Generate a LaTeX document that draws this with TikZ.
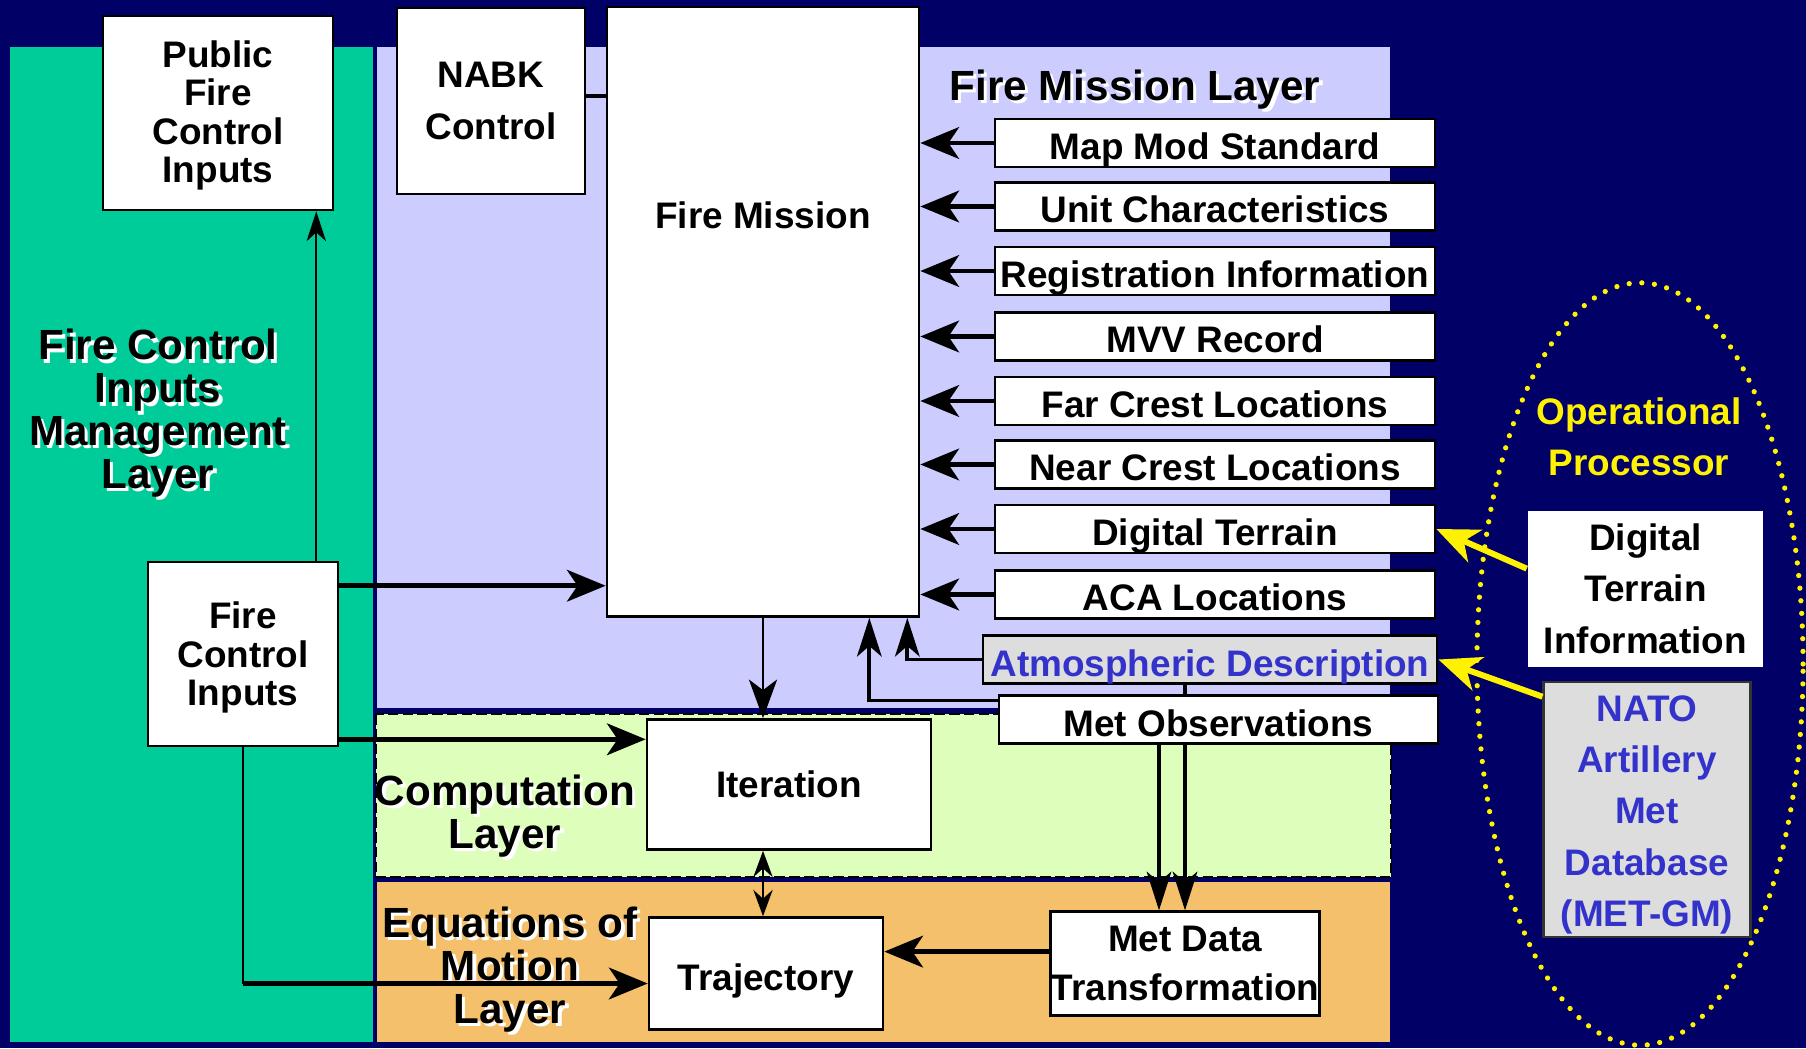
\documentclass[tikz,border=0pt]{standalone}
\usepackage{fontspec}
\setmainfont{Liberation Sans}
\usepackage{tikz}
\usetikzlibrary{positioning, arrows.meta, calc, shapes.geometric}
\definecolor{slidebg}{RGB}{0,0,102}
\definecolor{fcigreen}{RGB}{0,204,153}
\definecolor{fmlav}{RGB}{204,204,255}
\definecolor{complime}{RGB}{221,255,187}
\definecolor{eomorange}{RGB}{245,192,108}
\definecolor{atmgrey}{RGB}{221,221,221}
\definecolor{atmblue}{RGB}{51,51,204}
\newcommand{\shtext}[1]{\leavevmode\rlap{\hspace{0.9pt}\raisebox{-0.9pt}{\color{white}#1}}#1}

\begin{document}
\begin{tikzpicture}[
			x=0.01cm, y=-0.01cm,
			>=Stealth,
			panel/.style={draw=slidebg, line width=0.8pt},
			whitebox/.style={
				draw=black, fill=white, line width=0.7pt, inner sep=0pt,
				align=center, font=\bfseries\fontsize{10.5}{10.9}\selectfont
			},
			listbox/.style={whitebox, minimum width=4.4cm, minimum height=0.48cm, text height=0.32cm, text depth=0cm},
			layertitle/.style={align=center, font=\bfseries\fontsize{12}{12.2}\selectfont},
			fatarrow/.style={-{Stealth[length=11pt, width=9pt, inset=3pt]}, line width=1.4pt},
			midarrow/.style={-{Stealth[length=11pt, width=7pt, inset=3pt]}, line width=1.1pt},
			downarrow/.style={-{Stealth[length=11pt, width=8pt, inset=3pt]}, line width=0.8pt},
			thinarrow/.style={-{Stealth[length=8.5pt, width=5.5pt, inset=2.5pt]}, line width=0.5pt},
			bothway/.style={{Stealth[length=7.5pt, width=5.5pt, inset=2.5pt]}-{Stealth[length=7.5pt, width=5.5pt, inset=2.5pt]}, line width=0.6pt},
			yelarrow/.style={-{Stealth[length=12pt, width=10pt, inset=3.5pt]}, line width=1.7pt, draw=yellow, fill=yellow}
			]
			
			% 0. SLIDE BACKGROUND
			\useasboundingbox (0,0) rectangle (1806,1048);
			\fill[slidebg] (0,0) rectangle (1806,1048);
			
			% 1. LAYER PANELS
			\filldraw[panel, fill=fcigreen] (9,46) rectangle (374,1043);
			\filldraw[panel, fill=fmlav] (376,46) rectangle (1391,709);
			\filldraw[fill=complime, draw=black, line width=0.6pt, dash pattern=on 3pt off 1.2pt] (376,714) rectangle (1391,877);
			\filldraw[panel, fill=eomorange] (376,881) rectangle (1391,1043);
			
			% 2. FIRE CONTROL INPUTS MANAGEMENT LAYER (Left)
			\node[whitebox, minimum width=2.30cm, minimum height=1.94cm, text height=39.5pt, text depth=0pt] (pubfci) at (218,113) {Public\\Fire\\Control\\Inputs};
			\node[whitebox, minimum width=1.90cm, minimum height=1.84cm, text height=29.25pt, text depth=0pt] (fci) at (243,654) {Fire\\Control\\Inputs};
			\node[layertitle] (fcimlayer) at (158,415) {\shtext{Fire Control}\\\shtext{Inputs}\\\shtext{Management}\\\shtext{Layer}};
			\draw[thinarrow] ([xshift=-0.23cm]fci.north east) -- ([xshift=-0.23cm]fci.north east |- pubfci.south);
			
			% 3. FIRE MISSION LAYER (Top)
			\node[whitebox, anchor=north, minimum width=3.12cm, text height=2.21cm, text depth=3.88cm, inner ysep=0pt] (fm) at (763,6) {Fire Mission};
			\node[whitebox, minimum width=1.88cm, minimum height=1.86cm, font=\bfseries\fontsize{10.5}{14.7}\selectfont] (nabk) at (491,101) {NABK\\Control};
			\draw[line width=1.4pt] ([yshift=0.05cm]nabk.east) -- ([yshift=0.05cm]nabk.east -| fm.west);
			\node[layertitle] (fmlayer) at (1135,91) {\shtext{Fire Mission Layer}};
			
			\node[listbox] (mapmod) at (1215,143) {Map Mod Standard};
			\node[listbox, below=0.13cm of mapmod] (unitchar) {Unit Characteristics};
			\node[listbox, below=0.14cm of unitchar] (reginfo) {Registration Information};
			\node[listbox, below=0.15cm of reginfo] (mvv) {MVV Record};
			\node[listbox, below=0.14cm of mvv] (farcrest) {Far Crest Locations};
			\node[listbox, below=0.13cm of farcrest] (nearcrest) {Near Crest Locations};
			\node[listbox, below=0.14cm of nearcrest] (digterr) {Digital Terrain};
			\node[listbox, below=0.15cm of digterr] (aca) {ACA Locations};
			\draw[fatarrow] (mapmod.west) -- (mapmod.west -| fm.east);
			\draw[fatarrow] (unitchar.west) -- (unitchar.west -| fm.east);
			\draw[fatarrow] (reginfo.west) -- (reginfo.west -| fm.east);
			\draw[fatarrow] (mvv.west) -- (mvv.west -| fm.east);
			\draw[fatarrow] (farcrest.west) -- (farcrest.west -| fm.east);
			\draw[fatarrow] (nearcrest.west) -- (nearcrest.west -| fm.east);
			\draw[fatarrow] (digterr.west) -- (digterr.west -| fm.east);
			\draw[fatarrow] (aca.west) -- (aca.west -| fm.east);
			
			\node[listbox, fill=atmgrey, text=atmblue, minimum width=4.54cm, text height=0.33cm] (atmdesc) at (1210,659.5) {Atmospheric Description};
			\node[listbox, minimum width=4.39cm, text height=0.33cm] (metobs) at (1218.5,719.7) {Met Observations};
			\coordinate (atmin) at ($(fm.south east)+(-13,0)$);
			\coordinate (metin) at ($(fm.south east)+(-51,0)$);
			\coordinate (metobsout) at ($(metobs.north west)+(0,6)$);
			\draw[midarrow] (atmdesc.west) -| (atmin);
			\draw[midarrow] (metobsout) -| (metin);
			
			% 4. COMPUTATION LAYER (Middle)
			\node[whitebox, minimum width=2.84cm, minimum height=1.30cm] (iter) at (789,784.5) {Iteration};
			\node[layertitle] (complayer) at (505,817.5) {\shtext{Computation}\\\shtext{Layer}};
			\draw[downarrow] (fm.south) -- (fm.south |- iter.north);
			\coordinate (fcitop) at ($(fci.north east)+(0,25)$);
			\coordinate (fcilow) at ($(fci.south east)+(0,-8)$);
			\draw[fatarrow] (fcitop) -- (fcitop -| fm.west);
			\draw[fatarrow] (fcilow) -- (fcilow -| iter.west);
			
			% 5. EQUATIONS OF MOTION LAYER (Bottom)
			\node[whitebox, minimum width=2.34cm, minimum height=1.12cm, text height=0.33cm, text depth=0cm] (traj) at (766,973.5) {Trajectory};
			\node[whitebox, minimum width=2.685cm, minimum height=1.04cm, font=\bfseries\fontsize{10.5}{14.1}\selectfont] (metdata) at (1185,963.6) {Met Data\\Transformation};
			\node[layertitle] (eomlayer) at (510,971) {\shtext{Equations of}\\\shtext{Motion}\\\shtext{Layer}};
			\draw[bothway] (iter.south -| fm.south) -- (traj.north -| fm.south);
			\coordinate (fcibend) at ($(fci.south |- traj.west)+(0,10)$);
			\draw[line width=0.5pt] (fci.south) -- (fcibend);
			\draw[fatarrow] (fcibend) -- (fcibend -| traj.west);
			\coordinate (metdown) at ($(metdata.north)+(-26,0)$);
			\draw[line width=1.1pt] (metdata.north |- atmdesc.south) -- (metdata.north |- metobs.north);
			\draw[midarrow] (metdown |- metobs.south) -- (metdown);
			\draw[midarrow] (metdata.north |- metobs.south) -- (metdata.north);
			\coordinate (mdtout) at ($(metdata.west)+(0,-12)$);
			\draw[fatarrow] (mdtout) -- (mdtout -| traj.east);
			
			% 6. OPERATIONAL PROCESSOR (Right)
			\node[draw=yellow, ellipse, minimum width=3.26cm, minimum height=7.62cm, line width=1.5pt, dash pattern=on 0pt off 3.6pt, line cap=round] (opproc) at (1640,664) {};
			\node[text=yellow, align=center, font=\bfseries\fontsize{10.5}{14.5}\selectfont] (oplabel) at (1639,436.5) {Operational\\Processor};
			\node[whitebox, draw=none, minimum width=2.35cm, minimum height=1.56cm, font=\bfseries\fontsize{10.5}{14.7}\selectfont] (dti) at (1645.5,588.6) {Digital\\Terrain\\Information};
			\node[whitebox, fill=atmgrey, text=atmblue, draw=black!80, minimum width=2.065cm, minimum height=2.55cm, text height=66.6pt, text depth=0pt, font=\bfseries\fontsize{10.5}{14.6}\selectfont] (nato) at (1647,809.5) {NATO\\Artillery\\Met\\Database\\(MET-GM)};
			\coordinate (dtiout) at ($(dti.west)+(0,-20)$);
			\coordinate (natoout) at ($(nato.north west)+(0,16)$);
			\draw[yelarrow] (dtiout) -- (digterr.east);
			\draw[yelarrow] (natoout) -- (atmdesc.east);
		\end{tikzpicture}
\end{document}
